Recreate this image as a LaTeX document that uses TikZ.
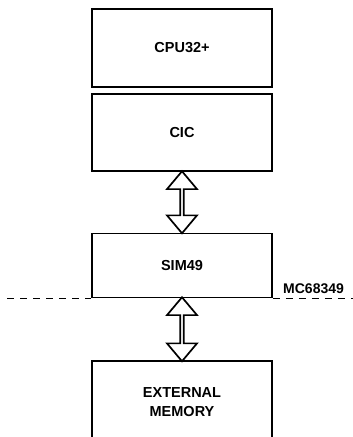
\documentclass[tikz,border=0pt]{standalone}
\usepackage{fontspec}
\setmainfont{Liberation Sans}
\usetikzlibrary{shapes.arrows,calc}
\begin{document}
\begin{tikzpicture}[x=1pt,y=-1pt,
  blk/.style={draw,line width=1.8pt,minimum width=180pt,inner sep=0pt,align=center,
    font=\fontsize{14.5}{19}\selectfont\bfseries},
  bus/.style={draw,line width=1.7pt,double arrow,shape border rotate=90,inner sep=0pt,
    minimum width=30pt,double arrow head extend=6.5pt,double arrow tip angle=80},
  sep/.style={line width=1.7pt,dash pattern=on 7pt off 6pt}]
\clip (0,0) rectangle (353,437);
\node[blk,minimum height=78pt] (cpu) at (182,48) {CPU32+};
\node[blk,minimum height=77pt] (cic) at (182,132.5) {CIC};
\node[blk,minimum height=64pt] (sim) at (182,265.5) {SIM49};
\node[blk,minimum height=82pt] (ext) at (182,402) {EXTERNAL\\MEMORY};
\node[bus,minimum height=62pt] (b1) at ($(cic.south)!0.5!(sim.north)$) {};
\node[bus,minimum height=64pt] (b2) at ($(sim.south)!0.5!(ext.north)$) {};
\coordinate (dl) at ([xshift=-84pt]sim.south west);
\coordinate (dr) at ([xshift=82pt]sim.south east);
\draw[sep] (dl) -- (sim.south west);
\draw[sep] (sim.south east) -- (dr);
\node[font=\fontsize{14}{16}\selectfont\bfseries,anchor=base west,inner sep=0pt] (mc) at (283,293.5) {MC68349};
\end{tikzpicture}
\end{document}
